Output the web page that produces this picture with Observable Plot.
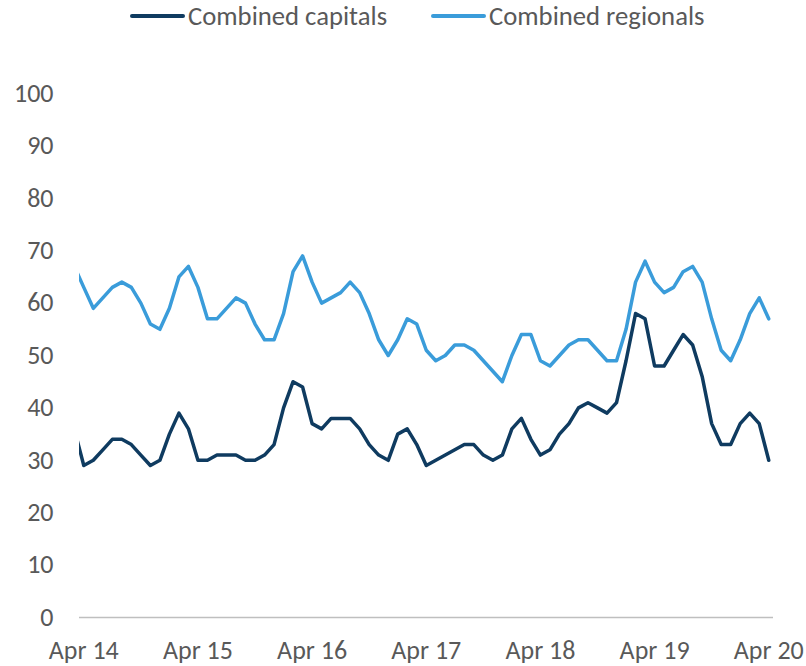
<!DOCTYPE html>
<html><head><meta charset="utf-8">
<script src="https://cdn.jsdelivr.net/npm/d3@7"></script>
<script src="https://cdn.jsdelivr.net/npm/@observablehq/plot@0.6"></script>
<style>
body{margin:0;background:#fff;font-family:Carlito,Calibri,Lato,sans-serif;}
#legend{position:relative;height:40px;width:806px;}
.item{position:absolute;top:0;height:32px;display:flex;align-items:center;font-size:26.7px;color:#595959;white-space:nowrap;}
.sw{display:inline-block;width:55px;height:4px;border-radius:2px;margin-right:3px;}
</style></head><body>
<div id="legend"></div><div id="chart"></div>
<script>
const seriesNames = ["Combined capitals", "Combined regionals"];
const seriesColors = ["#0f3b60", "#3a9cda"];
// month offsets from Apr 2014 (Mar 2014 = -1 ... Apr 2020 = 72)
const monthOffsets = d3.range(-1, 73);
const capitals = [36,
  29,30,32,34,34,33,31,29,30,35,39,36,
  30,30,31,31,31,30,30,31,33,40,45,44,
  37,36,38,38,38,36,33,31,30,35,36,33,
  29,30,31,32,33,33,31,30,31,36,38,34,
  31,32,35,37,40,41,40,39,41,49,58,57,
  48,48,51,54,52,46,37,33,33,37,39,37,
  30];
const regionals = [67,
  63,59,61,63,64,63,60,56,55,59,65,67,
  63,57,57,59,61,60,56,53,53,58,66,69,
  64,60,61,62,64,62,58,53,50,53,57,56,
  51,49,50,52,52,51,49,47,45,50,54,54,
  49,48,50,52,53,53,51,49,49,55,64,68,
  64,62,63,66,67,64,57,51,49,53,58,61,
  57];
const tickMonths = [0, 12, 24, 36, 48, 60, 72];
const tickLabels = ["Apr 14", "Apr 15", "Apr 16", "Apr 17", "Apr 18", "Apr 19", "Apr 20"];
const yTicks = [0, 10, 20, 30, 40, 50, 60, 70, 80, 90, 100];

const legend = document.getElementById("legend");
const legendLeft = [130, 431];
seriesNames.forEach((n, i) => {
  const it = document.createElement("div");
  it.className = "item";
  it.style.left = legendLeft[i] + "px";
  it.innerHTML = `<span class="sw" style="background:${seriesColors[i]}"></span>${n}`;
  legend.appendChild(it);
});

const rows = [];
monthOffsets.forEach((m, i) => {
  rows.push({m, v: capitals[i], s: seriesNames[0]});
  rows.push({m, v: regionals[i], s: seriesNames[1]});
});

const chart = Plot.plot({
  width: 806, height: 626,
  marginLeft: 79, marginRight: 33, marginTop: 53, marginBottom: 49,
  style: {fontFamily: "Carlito, Calibri, Lato, sans-serif", fontSize: "26px", color: "#595959", background: "white", overflow: "visible"},
  x: {domain: [-0.45, 72.5]},
  y: {domain: [0, 100]},
  color: {domain: seriesNames, range: seriesColors},
  marks: [
    Plot.ruleY([0], {stroke: "#bfbfbf", strokeWidth: 1.5}),
    Plot.lineY(rows, {x: "m", y: "v", stroke: "s", strokeWidth: 3.5, clip: true}),
    Plot.axisX({ticks: tickMonths, tickFormat: d => tickLabels[tickMonths.indexOf(d)], tickSize: 0, tickPadding: 23, label: null, fill: "#595959"}),
    Plot.axisY({ticks: yTicks, tickSize: 0, tickPadding: 26, label: null, fill: "#595959"})
  ]
});
document.getElementById("chart").appendChild(chart);
</script>
</body></html>
